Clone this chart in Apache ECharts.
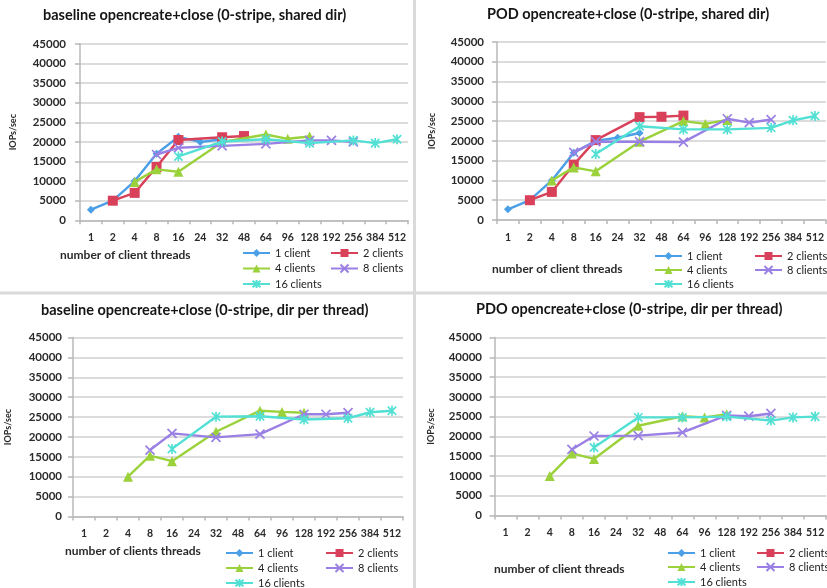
<!DOCTYPE html>
<html><head><meta charset="utf-8">
<script src="https://cdn.jsdelivr.net/npm/echarts@6/dist/echarts.min.js"></script>
<style>html,body{margin:0;padding:0;background:#fff}#c{width:827px;height:588px}</style>
</head><body><div id="c"></div>
<script>
// ---------- data ----------
const threadCats = ['1','2','4','8','16','24','32','48','64','96','128','192','256','384','512'];
const seriesNames = ['1 client','2 clients','4 clients','8 clients','16 clients'];
const yTickMin = 0, yTickMax = 45000, yTickStep = 5000;
const yAxisName = 'IOPs/sec';
const panelTitles = [
  'baseline opencreate+close (0-stripe, shared dir)',
  'POD opencreate+close (0-stripe, shared dir)',
  'baseline opencreate+close (0-stripe, dir per thread)',
  'PDO opencreate+close (0-stripe, dir per thread)'
];
const xAxisNames = ['number of client threads','number of client threads','number of clients threads','number of client threads'];

// baseline, shared dir
const baseShared1 = [2700,5000,10000,17000,21300,20000,20700,null,null,null,null,null,null,null,null];
const baseShared2 = [null,5000,7000,13600,20500,null,21200,21500,null,null,null,null,null,null,null];
const baseShared4 = [null,null,9800,13000,12400,null,20000,null,21900,20800,21400,null,null,null,null];
const baseShared8 = [null,null,null,16800,18500,null,19000,null,19500,null,20400,20400,20000,null,null];
const baseShared16 = [null,null,null,null,16300,null,20100,null,20700,null,19700,null,20400,19700,20700];
// POD, shared dir
const podShared1 = [2700,5000,10000,17000,20000,20800,22000,null,null,null,null,null,null,null,null];
const podShared2 = [null,5000,7100,14000,20200,null,26000,26100,26400,null,null,null,null,null,null];
const podShared4 = [null,null,10000,13300,12300,null,19800,null,25000,24300,25300,null,null,null,null];
const podShared8 = [null,null,null,17100,19800,null,19800,null,19700,null,25600,24600,25400,null,null];
const podShared16 = [null,null,null,null,16700,null,23700,null,22900,null,22900,null,23300,25200,26300];
// baseline, dir per thread
const baseDir1 = [null,null,null,null,null,null,null,null,null,null,null,null,null,null,null];
const baseDir2 = [null,null,null,null,null,null,null,null,null,null,null,null,null,null,null];
const baseDir4 = [null,null,10000,15300,13900,null,21300,null,26600,26300,26100,null,null,null,null];
const baseDir8 = [null,null,null,16700,20900,null,19900,null,20700,null,25700,25700,26100,null,null];
const baseDir16 = [null,null,null,null,17000,null,25100,null,25200,null,24400,null,24700,26200,26600];
// PDO, dir per thread
const pdoDir1 = [null,null,null,null,null,null,null,null,null,null,null,null,null,null,null];
const pdoDir2 = [null,null,null,null,null,null,null,null,null,null,null,null,null,null,null];
const pdoDir4 = [null,null,10000,15700,14300,null,22700,null,25100,24800,25600,null,null,null,null];
const pdoDir8 = [null,null,null,16700,20100,null,20200,null,21000,null,25300,25100,25800,null,null];
const pdoDir16 = [null,null,null,null,17200,null,24800,null,24800,null,25000,null,24000,24800,25000];

const panelSeries = [
  [baseShared1, baseShared2, baseShared4, baseShared8, baseShared16],
  [podShared1, podShared2, podShared4, podShared8, podShared16],
  [baseDir1, baseDir2, baseDir4, baseDir8, baseDir16],
  [pdoDir1, pdoDir2, pdoDir4, pdoDir8, pdoDir16]
];

// ---------- styling / layout ----------
const FONT = 'Lato';
const colors = ['#4b9fe6', '#d9415a', '#9bd23c', '#9a80e4', '#52e0d4'];
const X_PATH = 'path://M0,0L10,10M10,0L0,10';
const STAR_PATH = 'path://M0,0L10,10M10,0L0,10M5,-1L5,11';
const symbols = ['diamond', 'rect', 'triangle', X_PATH, STAR_PATH];
const symbolSizes = [8, 10, 10, 9, 10];

const grids = [
  {left: 80, top: 44, width: 328, height: 176.3},
  {left: 497, top: 42, width: 333, height: 178},
  {left: 73, top: 337.5, width: 330, height: 179},
  {left: 494.5, top: 337.5, width: 339, height: 178}
];
const yLabelMargins = [14, 13, 11, 12.5];
const yNameGaps = [62, 60, 60, 59];
const xLabelMargins = [12, 12, 12, 11.5];
const titlePos = [[43, 8], [487, 7], [41, 303], [476, 302]];
const xNamePos = [[60, 256], [492, 270], [65, 552], [494, 570]];
// legend item anchors [x, centerY] for each series per panel
const legendPos = [
  [[242,253],[330,253],[242,268.5],[330,268.5],[242,284]],
  [[654,256],[754,256],[654,270],[754,270],[654,284]],
  [[225,553],[325,553],[225,568],[325,568],[225,583]],
  [[667,553],[756,553],[667,567],[756,567],[667,582]]
];

const xAxes = [], yAxes = [], series = [], legends = [], titles = [], graphics = [];
for (let p = 0; p < 4; p++) {
  xAxes.push({
    type: 'category', gridIndex: p, data: threadCats, boundaryGap: true,
    axisLine: {lineStyle: {color: '#b8b8b8', width: 1.5}},
    axisTick: {show: true, length: 4, lineStyle: {color: '#b8b8b8', width: 1.5}},
    axisLabel: {interval: 0, margin: xLabelMargins[p], fontFamily: FONT, fontWeight: 'bold', fontSize: 10.5, color: '#2a2a2a'},
    splitLine: {show: false}
  });
  yAxes.push({
    type: 'value', gridIndex: p, min: yTickMin, max: yTickMax, interval: yTickStep,
    name: yAxisName, nameLocation: 'middle', nameRotate: 90, nameGap: yNameGaps[p],
    nameTextStyle: {fontFamily: FONT, fontWeight: 'bold', fontSize: 9, color: '#2a2a2a'},
    axisLine: {show: true, lineStyle: {color: '#b8b8b8', width: 1.5}},
    axisTick: {show: true, length: 5, lineStyle: {color: '#b8b8b8', width: 1.5}},
    axisLabel: {margin: yLabelMargins[p], fontFamily: FONT, fontWeight: 'bold', fontSize: 11.5, color: '#2a2a2a',
      formatter: function (v) { return String(v); }},
    splitLine: {show: true, lineStyle: {color: '#d0d0d0', width: 1.5}}
  });
  for (let s = 0; s < 5; s++) {
    const isPath = s >= 3;
    series.push({
      type: 'line', name: seriesNames[s], xAxisIndex: p, yAxisIndex: p,
      data: panelSeries[p][s], connectNulls: true,
      symbol: symbols[s], symbolSize: symbolSizes[s], symbolKeepAspect: true, showAllSymbol: true,
      lineStyle: {color: colors[s], width: 2.4},
      itemStyle: {color: colors[s], borderColor: colors[s], borderWidth: isPath ? 1.7 : 0},
      emphasis: {disabled: true}, z: 2 + s
    });
    legends.push({
      data: [seriesNames[s]], left: legendPos[p][s][0], top: legendPos[p][s][1] - 6,
      padding: 0, itemWidth: 27, itemHeight: 10, itemGap: 0, selectedMode: false,
      textStyle: {fontFamily: FONT, fontSize: 11, color: '#222', lineHeight: 12}
    });
  }
  titles.push({
    text: panelTitles[p], left: titlePos[p][0], top: titlePos[p][1], padding: 0,
    textStyle: {fontFamily: FONT, fontWeight: 'bold', fontSize: 14.5, color: '#151515'}
  });
  graphics.push({
    type: 'text', left: xNamePos[p][0], top: xNamePos[p][1] - 7,
    style: {text: xAxisNames[p], font: 'bold 12px ' + FONT, fill: '#2a2a2a'}
  });
}
// panel separators
graphics.push({type: 'rect', shape: {x: 413, y: 0, width: 3, height: 588}, style: {fill: '#dadada'}, z: -1});
graphics.push({type: 'rect', shape: {x: 0, y: 291.5, width: 827, height: 3}, style: {fill: '#dadada'}, z: -1});

const chart = echarts.init(document.getElementById('c'), null, {renderer: 'canvas'});
chart.setOption({
  animation: false,
  backgroundColor: '#ffffff',
  title: titles,
  legend: legends,
  grid: grids,
  xAxis: xAxes,
  yAxis: yAxes,
  series: series,
  graphic: graphics
});
</script></body></html>
